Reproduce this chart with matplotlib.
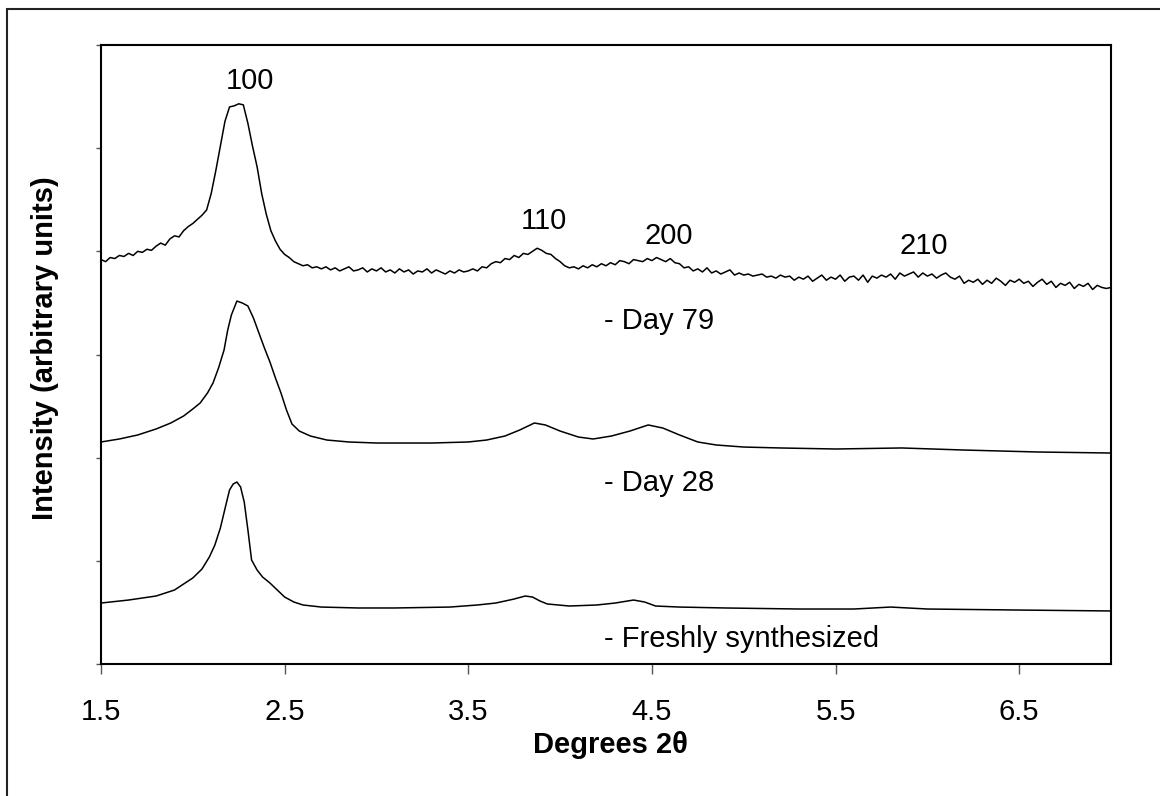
import numpy as np
import matplotlib
matplotlib.use("Agg")
import matplotlib.pyplot as plt
from matplotlib.patches import Rectangle

plt.rcParams['font.family'] = ['Liberation Sans', 'DejaVu Sans']

# freshly synthesized sample
fresh_x = [1.5, 1.65, 1.8, 1.9, 2.0, 2.05, 2.09, 2.12, 2.15, 2.18, 2.2, 2.22,
           2.24, 2.26, 2.28, 2.30, 2.32, 2.35, 2.38, 2.42, 2.46, 2.50, 2.55, 2.6,
           2.7, 2.9, 3.1, 3.4, 3.55, 3.65, 3.75, 3.81, 3.85, 3.89, 3.93, 4.05,
           4.2, 4.3, 4.4, 4.46, 4.52, 4.65, 4.9, 5.3, 5.6, 5.8, 6.0, 6.5, 7.0]
fresh_y = [0.591, 0.620, 0.659, 0.717, 0.834, 0.921, 1.037, 1.153, 1.318, 1.541,
           1.687, 1.745, 1.764, 1.716, 1.570, 1.299, 1.008, 0.911, 0.843, 0.785,
           0.717, 0.649, 0.601, 0.572, 0.552, 0.543, 0.543, 0.552, 0.572, 0.591,
           0.630, 0.659, 0.649, 0.611, 0.582, 0.562, 0.572, 0.591, 0.620, 0.601,
           0.562, 0.552, 0.543, 0.533, 0.533, 0.552, 0.533, 0.523, 0.514]

# day 28
d28_x = [1.5, 1.6, 1.7, 1.8, 1.88, 1.95, 2.0, 2.04, 2.08, 2.11, 2.14, 2.17,
         2.19, 2.21, 2.24, 2.27, 2.30, 2.33, 2.36, 2.39, 2.42, 2.45, 2.48, 2.51,
         2.54, 2.58, 2.64, 2.73, 2.85, 3.0, 3.3, 3.5, 3.6, 3.7, 3.78, 3.86,
         3.92, 4.0, 4.1, 4.18, 4.28, 4.38, 4.48, 4.56, 4.65, 4.75, 4.85, 5.0,
         5.2, 5.5, 5.86, 6.2, 6.6, 7.0]
d28_y = [2.152, 2.181, 2.220, 2.278, 2.336, 2.404, 2.472, 2.530, 2.627, 2.724,
         2.869, 3.043, 3.237, 3.383, 3.518, 3.499, 3.470, 3.354, 3.208, 3.063,
         2.927, 2.772, 2.627, 2.462, 2.326, 2.258, 2.210, 2.171, 2.152, 2.142,
         2.142, 2.152, 2.171, 2.210, 2.268, 2.336, 2.317, 2.258, 2.200, 2.181,
         2.210, 2.258, 2.317, 2.287, 2.220, 2.152, 2.123, 2.103, 2.094, 2.084,
         2.094, 2.074, 2.055, 2.045]

# day 79 (noisy scan, 0.025 deg steps from 1.5 to 7.0)
d79_x = np.round(np.arange(1.5, 7.0001, 0.025), 3)
d79_y = [3.92, 3.90, 3.94, 3.93, 3.96, 3.95, 3.98, 3.96, 4.00, 3.99,
         4.02, 4.01, 4.05, 4.08, 4.06, 4.12, 4.15, 4.14, 4.20, 4.24,
         4.27, 4.31, 4.35, 4.40, 4.56, 4.78, 5.02, 5.26, 5.40, 5.41,
         5.43, 5.42, 5.24, 5.02, 4.82, 4.56, 4.36, 4.20, 4.10, 4.02,
         3.97, 3.94, 3.90, 3.88, 3.86, 3.87, 3.84, 3.85, 3.83, 3.85,
         3.82, 3.84, 3.81, 3.83, 3.85, 3.81, 3.82, 3.84, 3.80, 3.83,
         3.81, 3.84, 3.80, 3.82, 3.79, 3.83, 3.80, 3.82, 3.78, 3.81,
         3.80, 3.83, 3.79, 3.82, 3.80, 3.78, 3.81, 3.79, 3.82, 3.80,
         3.81, 3.83, 3.81, 3.85, 3.84, 3.88, 3.90, 3.89, 3.93, 3.92,
         3.96, 3.94, 3.98, 3.97, 4.00, 4.03, 4.01, 3.98, 3.97, 3.93,
         3.90, 3.86, 3.84, 3.85, 3.83, 3.86, 3.84, 3.87, 3.85, 3.88,
         3.86, 3.89, 3.87, 3.91, 3.90, 3.88, 3.92, 3.91, 3.90, 3.93,
         3.91, 3.94, 3.92, 3.90, 3.93, 3.89, 3.88, 3.84, 3.85, 3.81,
         3.83, 3.80, 3.84, 3.79, 3.81, 3.78, 3.80, 3.82, 3.77, 3.79,
         3.77, 3.78, 3.76, 3.77, 3.78, 3.75, 3.76, 3.74, 3.77, 3.75,
         3.76, 3.72, 3.75, 3.73, 3.76, 3.71, 3.74, 3.77, 3.72, 3.75,
         3.73, 3.77, 3.71, 3.75, 3.76, 3.72, 3.77, 3.70, 3.76, 3.74,
         3.77, 3.75, 3.78, 3.73, 3.79, 3.76, 3.78, 3.80, 3.75, 3.79,
         3.76, 3.78, 3.74, 3.77, 3.79, 3.75, 3.73, 3.76, 3.69, 3.72,
         3.70, 3.73, 3.68, 3.72, 3.69, 3.74, 3.71, 3.67, 3.72, 3.70,
         3.73, 3.69, 3.71, 3.66, 3.70, 3.73, 3.68, 3.71, 3.65, 3.69,
         3.67, 3.70, 3.64, 3.68, 3.66, 3.69, 3.63, 3.67, 3.65, 3.64,
         3.65]

peak_labels = ['100', '110', '200', '210']
peak_pos = [(2.31, 5.57), (3.91, 4.22), (4.59, 4.07), (5.98, 3.97)]
sample_labels = ['- Day 79', '- Day 28', '- Freshly synthesized']
sample_pos = [(4.24, 3.25), (4.24, 1.68), (4.24, 0.16)]
xticks = [1.5, 2.5, 3.5, 4.5, 5.5, 6.5]

fig = plt.figure(figsize=(11.6, 7.96), dpi=100)
# outer frame of the original figure (cut at right/bottom)
fig.patches.append(Rectangle((7 / 1160, -0.1), 1.2, 1 - 9 / 796 + 0.1,
                             transform=fig.transFigure, fill=False,
                             edgecolor='#222222', linewidth=1.5))
ax = fig.add_axes([101 / 1160, 1 - 664 / 796, 1010 / 1160, 619 / 796])

for xs, ys in [(fresh_x, fresh_y), (d28_x, d28_y), (d79_x, d79_y)]:
    ax.plot(xs, ys, color='black', linewidth=1.1)

ax.set_xlim(1.5, 7.0)
ax.set_ylim(0, 6)
ax.set_xticks(xticks)
ax.set_xticklabels([str(t) for t in xticks])
ax.set_yticks(range(7))
ax.set_yticklabels([])
ax.tick_params(axis='x', direction='out', length=7.2, width=1, pad=17,
               labelsize=21, color='#555555')
ax.tick_params(axis='y', direction='out', length=3.6, width=1, color='#555555')
for sp in ax.spines.values():
    sp.set_linewidth(1.5)

for lab, (x, y) in zip(peak_labels, peak_pos):
    ax.text(x, y, lab, fontsize=21, ha='center', va='baseline')
for lab, (x, y) in zip(sample_labels, sample_pos):
    ax.text(x, y, lab, fontsize=21, ha='left', va='baseline')

fig.text(610 / 1160, 1 - 745 / 796, 'Degrees 2θ', fontsize=21,
         fontweight='bold', ha='center', va='center')
fig.text(45 / 1160, 1 - 348 / 796, 'Intensity (arbitrary units)', fontsize=21,
         fontweight='bold', ha='center', va='center', rotation=90)

fig.savefig('out.png', dpi=100)
